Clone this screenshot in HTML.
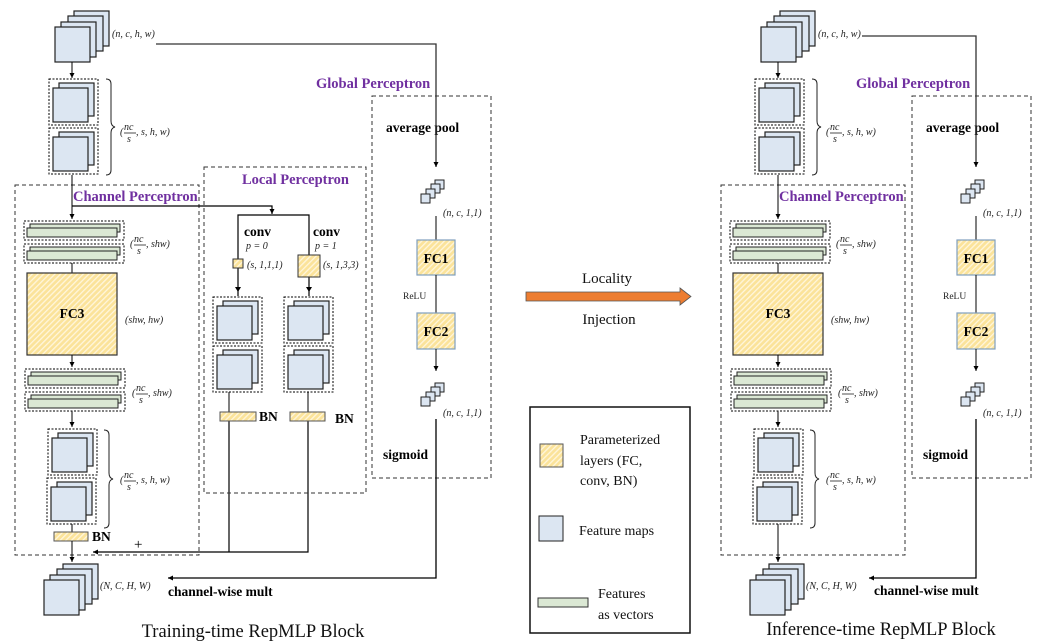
<!DOCTYPE html>
<html><head><meta charset="utf-8"><style>
html,body{margin:0;padding:0;background:#fff;}
svg{display:block;}
text{font-family:"Liberation Serif",serif;}
.lb{font-size:10px;font-style:italic;fill:#222;}
.bd{font-size:13.5px;font-weight:bold;fill:#000;}
.pp{font-size:14.5px;font-weight:bold;fill:#7030a0;}
</style></head><body>
<svg width="1055" height="644" viewBox="0 0 1055 644" xmlns="http://www.w3.org/2000/svg">
<defs>
<pattern id="h" width="4" height="4" patternUnits="userSpaceOnUse" patternTransform="rotate(45)">
<rect width="4" height="4" fill="#fbe39a"/><rect width="1.3" height="4" fill="#fff6dc"/>
</pattern>
<marker id="a" markerWidth="6" markerHeight="6" refX="5" refY="3" orient="auto" markerUnits="userSpaceOnUse">
<path d="M0,0.5 L5,3 L0,5.5z" fill="#000"/></marker>
<g id="fm2">
<rect x="0" y="0" width="49" height="46" fill="none" stroke="#000" stroke-width="1" stroke-dasharray="2,1.5"/>
<rect x="10" y="4" width="35" height="33" fill="#dce6f2" stroke="#222" stroke-width="1.2"/>
<rect x="4" y="9" width="35" height="34" fill="#dce6f2" stroke="#222" stroke-width="1.2"/>
</g>
<g id="vg">
<rect x="0" y="0" width="100" height="19" fill="none" stroke="#000" stroke-width="1" stroke-dasharray="2,1.5"/>
<rect x="6" y="3" width="90" height="8" fill="#dbe8d4" stroke="#222" stroke-width="1"/>
<rect x="3" y="7" width="90" height="9" fill="#dbe8d4" stroke="#222" stroke-width="1"/>
</g>
<g id="st4">
<rect x="19" y="0" width="35" height="35" fill="#dce6f2" stroke="#222" stroke-width="1.2"/>
<rect x="13" y="5" width="35" height="35" fill="#dce6f2" stroke="#222" stroke-width="1.2"/>
<rect x="6" y="11" width="35" height="35" fill="#dce6f2" stroke="#222" stroke-width="1.2"/>
<rect x="0" y="16" width="35" height="35" fill="#dce6f2" stroke="#222" stroke-width="1.2"/>
</g>
<g id="cb">
<rect x="14" y="0" width="9" height="9" fill="#dce6f2" stroke="#222"/>
<rect x="10" y="4" width="9" height="9" fill="#dce6f2" stroke="#222"/>
<rect x="5" y="9" width="9" height="9" fill="#dce6f2" stroke="#222"/>
<rect x="0" y="14" width="9" height="9" fill="#dce6f2" stroke="#222"/>
</g>
<g id="frac1">
<text x="0" y="4" class="lb" font-size="11">(</text>
<text x="4" y="-1" class="lb">nc</text>
<line x1="4" y1="2" x2="16" y2="2" stroke="#222" stroke-width="0.8"/>
<text x="7" y="11" class="lb">s</text>
<text x="16" y="4" class="lb">, s, h, w)</text>
</g>
<g id="frac2">
<text x="0" y="4" class="lb" font-size="11">(</text>
<text x="4" y="-1" class="lb">nc</text>
<line x1="4" y1="2" x2="16" y2="2" stroke="#222" stroke-width="0.8"/>
<text x="7" y="11" class="lb">s</text>
<text x="16" y="4" class="lb">, shw)</text>
</g>
<g id="chan">
<use href="#st4" x="55" y="11"/>
<text x="112" y="37" class="lb">(n, c, h, w)</text>
<line x1="72" y1="62" x2="72" y2="78" stroke="#000" marker-end="url(#a)"/>
<use href="#fm2" x="49" y="79"/>
<use href="#fm2" x="49" y="128"/>
<path d="M106,79 q5,0 5,5 v37 q0,5 4,6 q-4,1 -4,6 v37 q0,5 -5,5" fill="none" stroke="#222"/>
<use href="#frac1" x="120" y="131"/>
<rect x="15" y="185" width="184" height="370" fill="none" stroke="#333" stroke-dasharray="4,3"/>
<line x1="72" y1="175" x2="72" y2="219" stroke="#000" marker-end="url(#a)"/>
<text x="73" y="201" class="pp">Channel Perceptron</text>
<use href="#vg" x="24" y="221"/>
<use href="#vg" x="24" y="244"/>
<use href="#frac2" x="130" y="243"/>
<line x1="72" y1="263" x2="72" y2="273" stroke="#000"/>
<rect x="27" y="273" width="90" height="82" fill="url(#h)" stroke="#333" stroke-width="1.2"/>
<text x="72" y="318" class="bd" text-anchor="middle" font-size="14">FC3</text>
<text x="125" y="323" class="lb">(shw, hw)</text>
<line x1="72" y1="355" x2="72" y2="367" stroke="#000" marker-end="url(#a)"/>
<use href="#vg" x="25" y="369"/>
<use href="#vg" x="25" y="392"/>
<use href="#frac2" x="132" y="392"/>
<line x1="72" y1="411" x2="72" y2="427" stroke="#000" marker-end="url(#a)"/>
<use href="#fm2" x="48" y="429"/>
<use href="#fm2" x="47" y="478"/>
<path d="M104,430 q5,0 5,5 v38 q0,5 4,6 q-4,1 -4,6 v38 q0,5 -5,5" fill="none" stroke="#222"/>
<use href="#frac1" x="120" y="479"/>
<use href="#st4" x="44" y="564"/>
<text x="100" y="589" class="lb">(N, C, H, W)</text>
</g>
<g id="glob">
<rect x="372" y="96" width="119" height="382" fill="none" stroke="#333" stroke-dasharray="4,3"/>
<text x="316" y="88" class="pp">Global Perceptron</text>
<text x="386" y="132" class="bd" font-size="14.5">average pool</text>
<use href="#cb" x="421" y="180"/>
<text x="443" y="216" class="lb">(n, c, 1,1)</text>
<line x1="436" y1="216" x2="436" y2="240" stroke="#000"/>
<rect x="417" y="240" width="38" height="35" fill="url(#h)" stroke="#7f9fbf" stroke-width="1.2"/>
<text x="436" y="263" class="bd" text-anchor="middle" font-size="13">FC1</text>
<line x1="436" y1="275" x2="436" y2="313" stroke="#000"/>
<text x="403" y="299" font-size="9.5" fill="#222">ReLU</text>
<rect x="417" y="313" width="38" height="36" fill="url(#h)" stroke="#7f9fbf" stroke-width="1.2"/>
<text x="436" y="336" class="bd" text-anchor="middle" font-size="13">FC2</text>
<line x1="436" y1="349" x2="436" y2="371" stroke="#000" marker-end="url(#a)"/>
<use href="#cb" x="421" y="383"/>
<text x="443" y="416" class="lb">(n, c, 1,1)</text>
<text x="383" y="459" class="bd" font-size="14">sigmoid</text>
</g>
</defs>

<use href="#chan"/>
<use href="#glob"/>
<polyline points="156,44 436,44 436,167" fill="none" stroke="#333" stroke-width="1.3" marker-end="url(#a)"/>
<polyline points="436,419 436,578 168,578" fill="none" stroke="#000" stroke-width="1.3" marker-end="url(#a)"/>
<text x="168" y="596" class="bd">channel-wise mult</text>
<line x1="72" y1="524" x2="72" y2="532" stroke="#000"/>
<rect x="54" y="532" width="34" height="9" fill="url(#h)" stroke="#555"/>
<text x="92" y="541" class="bd">BN</text>
<line x1="72" y1="541" x2="72" y2="562" stroke="#000" marker-end="url(#a)"/>
<polyline points="308,421 308,552 93,552" fill="none" stroke="#000" stroke-width="1.2" marker-end="url(#a)"/>
<line x1="229" y1="421" x2="229" y2="552" stroke="#000" stroke-width="1.2"/>
<text x="134" y="549" font-size="15" fill="#000">+</text>
<rect x="204" y="167" width="162" height="326" fill="none" stroke="#333" stroke-dasharray="4,3"/>
<text x="242" y="184" class="pp">Local Perceptron</text>
<polyline points="72,206 272,206 272,214" fill="none" stroke="#000" stroke-width="1.2" marker-end="url(#a)"/>
<polyline points="238,296 238,215 309,215 309,296" fill="none" stroke="#000" stroke-width="1.2"/>
<path d="M238,292 l-3,-5 h6z M309,292 l-3,-5 h6z" fill="#000"/>
<text x="244" y="236" class="bd" font-size="14">conv</text>
<text x="246" y="249" class="lb" font-size="11">p = 0</text>
<text x="313" y="236" class="bd" font-size="14">conv</text>
<text x="315" y="249" class="lb" font-size="11">p = 1</text>
<rect x="233" y="259" width="10" height="9" fill="url(#h)" stroke="#333"/>
<text x="247" y="268" class="lb">(s, 1,1,1)</text>
<rect x="298" y="255" width="22" height="22" fill="url(#h)" stroke="#333"/>
<text x="323" y="268" class="lb">(s, 1,3,3)</text>
<use href="#fm2" x="213" y="297"/>
<use href="#fm2" x="213" y="346"/>
<use href="#fm2" x="284" y="297"/>
<use href="#fm2" x="284" y="346"/>
<line x1="229" y1="392" x2="229" y2="412" stroke="#000"/>
<line x1="308" y1="392" x2="308" y2="412" stroke="#000"/>
<rect x="220" y="412" width="36" height="9" fill="url(#h)" stroke="#555"/>
<rect x="290" y="412" width="35" height="9" fill="url(#h)" stroke="#555"/>
<text x="259" y="421" class="bd">BN</text>
<text x="335" y="423" class="bd">BN</text>
<text x="253" y="637" font-size="18.5" text-anchor="middle" fill="#111">Training-time RepMLP Block</text>

<text x="607" y="283" font-size="15" text-anchor="middle" fill="#111">Locality</text>
<text x="609" y="324" font-size="15" text-anchor="middle" fill="#111">Injection</text>
<path d="M526,292 H680 V288 L691,296.5 L680,305 V301 H526z" fill="#ed7d31" stroke="#555" stroke-width="0.8"/>

<rect x="530" y="407" width="160" height="226" fill="none" stroke="#111" stroke-width="1.5"/>
<rect x="540" y="444" width="23" height="23" fill="url(#h)" stroke="#555"/>
<text x="580" y="444" font-size="14" fill="#111">Parameterized</text>
<text x="580" y="465" font-size="14" fill="#111">layers (FC,</text>
<text x="580" y="485" font-size="14" fill="#111">conv, BN)</text>
<rect x="539" y="516" width="24" height="25" fill="#dce6f2" stroke="#222"/>
<text x="579" y="535" font-size="14" fill="#111">Feature maps</text>
<rect x="538" y="598" width="50" height="9" fill="#dbe8d4" stroke="#333"/>
<text x="598" y="598" font-size="14" fill="#111">Features</text>
<text x="598" y="619" font-size="14" fill="#111">as vectors</text>

<g transform="translate(706,0)">
<use href="#chan"/>
<line x1="72" y1="524" x2="72" y2="562" stroke="#000" marker-end="url(#a)"/>
</g>
<g transform="translate(540,0)"><use href="#glob"/></g>
<polyline points="862,36 976,36 976,167" fill="none" stroke="#333" stroke-width="1.3" marker-end="url(#a)"/>
<polyline points="976,419 976,578 869,578" fill="none" stroke="#000" stroke-width="1.3" marker-end="url(#a)"/>
<text x="874" y="595" class="bd">channel-wise mult</text>
<text x="881" y="635" font-size="18.5" text-anchor="middle" fill="#111">Inference-time RepMLP Block</text>
</svg>
</body></html>
